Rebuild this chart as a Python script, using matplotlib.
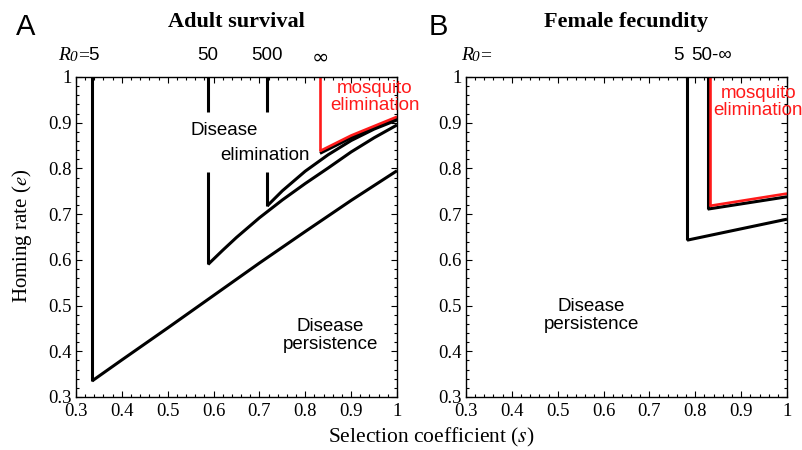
import matplotlib
matplotlib.use("Agg")
import matplotlib.pyplot as plt
import matplotlib.transforms as mtrans
from matplotlib.ticker import MultipleLocator

plt.rcParams["mathtext.fontset"] = "stix"

SERIF = "Liberation Serif"
SANS = "Liberation Sans"

# ---- Panel A: Adult survival ----
# R0 = 5 boundary
a5_vs = [0.335, 0.335]
a5_ve = [1.0, 0.335]
a5_s = [0.335, 0.4, 0.5, 0.6, 0.7, 0.8, 0.9, 1.0]
a5_e = [0.335, 0.381, 0.451, 0.522, 0.593, 0.662, 0.730, 0.795]
# R0 = 50 boundary
a50_vs = 0.588
a50_vtop = [1.0, 0.923]
a50_vbot = [0.792, 0.590]
a50_s = [0.588, 0.62, 0.65, 0.70, 0.75, 0.80, 0.85, 0.90, 0.95, 1.0]
a50_e = [0.590, 0.621, 0.649, 0.692, 0.731, 0.767, 0.801, 0.836, 0.867, 0.895]
# R0 = 500 boundary
a500_vs = 0.717
a500_vtop = [1.0, 0.923]
a500_vbot = [0.792, 0.718]
a500_s = [0.717, 0.75, 0.80, 0.85, 0.90, 0.95, 1.0]
a500_e = [0.718, 0.751, 0.794, 0.830, 0.861, 0.886, 0.906]
# R0 = infinity (mosquito elimination)
ainf_vs = [0.832, 0.832]
ainf_ve = [1.0, 0.838]
ainf_s = [0.832, 0.9, 1.0]
ainf_e = [0.838, 0.872, 0.913]
ainf_black_e = [0.833, 0.867, 0.909]

# ---- Panel B: Female fecundity ----
b5_vs = [0.782, 0.782]
b5_ve = [1.0, 0.643]
b5_s = [0.782, 1.0]
b5_e = [0.643, 0.689]
b50_vs = [0.827, 0.827]
b50_ve = [1.0, 0.711]
b50_s = [0.827, 1.0]
b50_e = [0.711, 0.738]
binf_vs = [0.831, 0.831]
binf_ve = [1.0, 0.718]
binf_s = [0.831, 1.0]
binf_e = [0.718, 0.745]

ticks = [0.3, 0.4, 0.5, 0.6, 0.7, 0.8, 0.9, 1.0]
ticklabels = ["0.3", "0.4", "0.5", "0.6", "0.7", "0.8", "0.9", "1"]

fig = plt.figure(figsize=(8.03, 4.5), dpi=100)
axA = fig.add_axes([0.0946, 0.1178, 0.3998, 0.7111])
axB = fig.add_axes([0.5803, 0.1178, 0.3998, 0.7111])

for ax in (axA, axB):
    ax.set_xlim(0.3, 1.0)
    ax.set_ylim(0.3, 1.0)
    ax.set_xticks(ticks)
    ax.set_yticks(ticks)
    ax.set_xticklabels(ticklabels, fontfamily=SERIF, fontsize=13.5)
    ax.set_yticklabels(ticklabels, fontfamily=SERIF, fontsize=13.5)
    ax.xaxis.set_minor_locator(MultipleLocator(0.02))
    ax.yaxis.set_minor_locator(MultipleLocator(0.02))
    ax.tick_params(which="both", direction="in", top=True, right=True, width=0.8)
    ax.tick_params(which="major", length=4)
    ax.tick_params(axis="x", which="major", pad=4)
    ax.tick_params(axis="y", which="major", pad=3)
    ax.tick_params(which="minor", length=2)
    for sp in ax.spines.values():
        sp.set_linewidth(1.0)

K = dict(color="black", lw=2.2, solid_capstyle="butt", solid_joinstyle="miter")
R = dict(color="#ff1a1a", lw=1.9, solid_capstyle="butt", solid_joinstyle="miter")

# Panel A lines
axA.plot(a5_vs, a5_ve, **K)
axA.plot(a5_s, a5_e, **K)
axA.plot([a50_vs, a50_vs], a50_vtop, **K)
axA.plot([a50_vs, a50_vs], a50_vbot, **K)
axA.plot(a50_s, a50_e, **K)
axA.plot([a500_vs, a500_vs], a500_vtop, **K)
axA.plot([a500_vs, a500_vs], a500_vbot, **K)
axA.plot(a500_s, a500_e, **K)
axA.plot(ainf_s, ainf_black_e, **K)
axA.plot(ainf_vs, ainf_ve, **R)
axA.plot(ainf_s, ainf_e, **R)

# Panel B lines
axB.plot(b5_vs, b5_ve, **K)
axB.plot(b5_s, b5_e, **K)
axB.plot(b50_vs, b50_ve, **K)
axB.plot(b50_s, b50_e, **K)
axB.plot(binf_vs, binf_ve, **R)
axB.plot(binf_s, binf_e, **R)

# Region annotations
tkw = dict(fontfamily=SANS, fontsize=13.5, ha="center", va="center")
axA.text(0.623, 0.882, "Disease", **tkw)
axA.text(0.712, 0.829, "elimination", **tkw)
axA.text(0.854, 0.434, "Disease\npersistence", linespacing=1.05, **tkw)
axA.text(0.952, 0.956, "mosquito\nelimination", color="#ff1a1a", linespacing=1.0,
         clip_on=False, **tkw)
axB.text(0.573, 0.478, "Disease\npersistence", linespacing=1.05, **tkw)
axB.text(0.937, 0.946, "mosquito\nelimination", color="#ff1a1a", linespacing=1.0,
         clip_on=False, **tkw)

# R0 labels above panels
trA = mtrans.blended_transform_factory(axA.transData, axA.transAxes)
trB = mtrans.blended_transform_factory(axB.transData, axB.transAxes)
ylab = 1.066
skw = dict(fontfamily=SANS, fontsize=13.5, va="center")
ikw = dict(fontfamily=SERIF, fontstyle="italic", va="center", ha="left")

axA.text(0.2600, ylab, "R", transform=trA, fontsize=14, **ikw)
axA.text(0.2850, ylab - 0.004, "0", transform=trA, fontsize=11, **ikw)
axA.text(0.3040, ylab, "=", ha="left", transform=trA, fontfamily=SERIF,
         fontsize=14, va="center")
axA.text(0.327, ylab, "5", ha="left", transform=trA, **skw)
axA.text(0.588, ylab, "50", ha="center", transform=trA, **skw)
axA.text(0.717, ylab, "500", ha="center", transform=trA, **skw)
axA.text(0.832, ylab - 0.005, "\u221e", ha="center", transform=trA,
         fontfamily="DejaVu Sans", fontsize=15, va="center")

axB.text(0.289, ylab, "R", transform=trB, fontsize=14, **ikw)
axB.text(0.3125, ylab - 0.004, "0", transform=trB, fontsize=11, **ikw)
axB.text(0.3305, ylab, "=", ha="left", transform=trB, fontfamily=SERIF,
         fontsize=14, va="center")
axB.text(0.764, ylab, "5", ha="center", transform=trB, **skw)
axB.text(0.792, ylab, "50-\u221e", ha="left", transform=trB,
         fontfamily=[SANS, "DejaVu Sans"], fontsize=13.5, va="center")

# Titles
axA.text(0.5, 1.172, "Adult survival", transform=axA.transAxes, ha="center",
         va="center", fontfamily=SERIF, fontweight="bold", fontsize=16)
axB.text(0.5, 1.172, "Female fecundity", transform=axB.transAxes, ha="center",
         va="center", fontfamily=SERIF, fontweight="bold", fontsize=16)

# Panel letters
fig.text(26 / 803, 1 - 27 / 450, "A", fontfamily=SANS, fontsize=21, ha="center", va="center")
fig.text(438 / 803, 1 - 27 / 450, "B", fontfamily=SANS, fontsize=21, ha="center", va="center")

# Axis labels
fig.text(22 / 803, 1 - 236 / 450, "Homing rate ($\\mathit{e}$)", fontfamily=SERIF,
         fontsize=15, rotation=90, ha="center", va="center")
fig.text(431 / 803, 1 - 437 / 450, "Selection coefficient ($\\mathit{s}$)",
         fontfamily=SERIF, fontsize=15.5, ha="center", va="center")

fig.savefig("out.png", dpi=100)
